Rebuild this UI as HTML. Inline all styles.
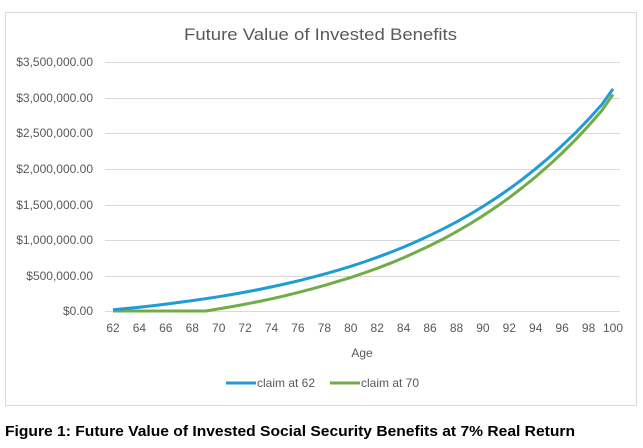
<!DOCTYPE html>
<html><head><meta charset="utf-8"><style>
body{margin:0;background:#fff;width:643px;height:443px;overflow:hidden;font-family:"Liberation Sans",sans-serif}
</style></head><body>
<svg width="643" height="443" xmlns="http://www.w3.org/2000/svg" font-family="Liberation Sans, sans-serif">
<rect x="5.5" y="12.5" width="631" height="393" fill="#fff" stroke="#d9d9d9"/>
<text x="184" y="40" font-size="17" fill="#595959" textLength="273" lengthAdjust="spacingAndGlyphs">Future Value of Invested Benefits</text>
<g stroke="#d9d9d9" stroke-width="1">
<line x1="105" x2="620" y1="62.5" y2="62.5"/><line x1="105" x2="620" y1="98.5" y2="98.5"/>
<line x1="105" x2="620" y1="133.5" y2="133.5"/><line x1="105" x2="620" y1="169.5" y2="169.5"/>
<line x1="105" x2="620" y1="205.5" y2="205.5"/><line x1="105" x2="620" y1="240.5" y2="240.5"/>
<line x1="105" x2="620" y1="276.5" y2="276.5"/><line x1="105" x2="620" y1="311.5" y2="311.5"/>
</g>
<g font-size="12" fill="#595959" text-anchor="end">
<text x="93" y="66">$3,500,000.00</text><text x="93" y="102">$3,000,000.00</text>
<text x="93" y="137">$2,500,000.00</text><text x="93" y="173">$2,000,000.00</text>
<text x="93" y="209">$1,500,000.00</text><text x="93" y="244">$1,000,000.00</text>
<text x="93" y="280">$500,000.00</text><text x="93" y="315">$0.00</text>
</g>
<g font-size="12" fill="#595959" text-anchor="middle">
<text x="113" y="332">62</text><text x="139.4" y="332">64</text><text x="165.8" y="332">66</text><text x="192.3" y="332">68</text><text x="218.7" y="332">70</text><text x="245.1" y="332">72</text><text x="271.5" y="332">74</text><text x="297.9" y="332">76</text><text x="324.4" y="332">78</text><text x="350.8" y="332">80</text><text x="377.2" y="332">82</text><text x="403.6" y="332">84</text><text x="430" y="332">86</text><text x="456.5" y="332">88</text><text x="482.9" y="332">90</text><text x="509.3" y="332">92</text><text x="535.7" y="332">94</text><text x="562.1" y="332">96</text><text x="588.6" y="332">98</text><text x="613" y="332">100</text>
<text x="362" y="357">Age</text>
</g>
<polyline fill="none" stroke="#70ad47" stroke-width="3" stroke-linejoin="round" points="113,311 126.2,311 139.4,311 152.6,311 165.8,311 179.1,311 192.3,311 205.5,311 218.7,308.9 231.9,306.6 245.1,304.2 258.3,301.6 271.5,298.8 284.7,295.8 297.9,292.6 311.2,289.1 324.4,285.4 337.6,281.4 350.8,277.5 364,273 377.2,268.3 390.4,263.2 403.6,257.7 416.8,251.8 430,245.6 443.3,238.9 456.5,231.7 469.7,224 482.9,215.8 496.1,207 509.3,197.6 522.5,187.5 535.7,176.8 548.9,165.3 562.1,153 575.4,139.8 588.6,125.7 601.8,110.6 613,94.4"/>
<polyline fill="none" stroke="#1f9bd7" stroke-width="3" stroke-linejoin="round" points="113,309.8 126.2,308.5 139.4,307.2 152.6,305.7 165.8,304.1 179.1,302.4 192.3,300.6 205.5,298.7 218.7,296.7 231.9,294.5 245.1,292.1 258.3,289.6 271.5,286.9 284.7,284 297.9,280.9 311.2,277.6 324.4,274.1 337.6,270.3 350.8,266.3 364,262 377.2,257.3 390.4,252.4 403.6,247.1 416.8,241.4 430,235.3 443.3,228.8 456.5,221.9 469.7,214.5 482.9,206.5 496.1,198 509.3,188.9 522.5,179.2 535.7,168.7 548.9,157.6 562.1,145.6 575.4,132.9 588.6,119.2 601.8,104.6 613,88.9"/>
<line x1="226" x2="256" y1="383" y2="383" stroke="#1f9bd7" stroke-width="3"/>
<text x="257" y="387" font-size="12" fill="#595959">claim at 62</text>
<line x1="330" x2="360" y1="383" y2="383" stroke="#70ad47" stroke-width="3"/>
<text x="361" y="387" font-size="12" fill="#595959">claim at 70</text>
<text x="5" y="436" font-size="15" font-weight="bold" fill="#000" textLength="570" lengthAdjust="spacingAndGlyphs">Figure 1: Future Value of Invested Social Security Benefits at 7% Real Return</text>
</svg>
</body></html>
